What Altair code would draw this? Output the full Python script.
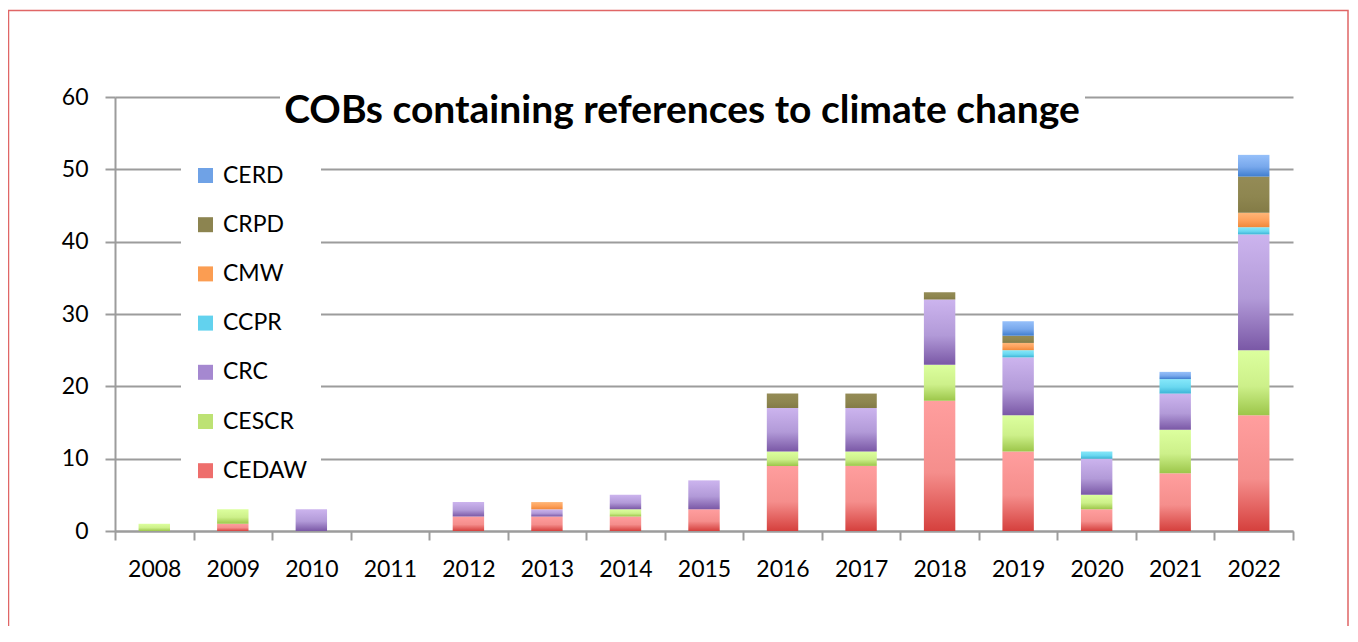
import altair as alt
import pandas as pd

years = ["2008", "2009", "2010", "2011", "2012", "2013", "2014", "2015",
         "2016", "2017", "2018", "2019", "2020", "2021", "2022"]
CEDAW = [0, 1, 0, 0, 2, 2, 2, 3, 9, 9, 18, 11, 3, 8, 16]
CESCR = [1, 2, 0, 0, 0, 0, 1, 0, 2, 2, 5, 5, 2, 6, 9]
CRC   = [0, 0, 3, 0, 2, 1, 2, 4, 6, 6, 9, 8, 5, 5, 16]
CCPR  = [0, 0, 0, 0, 0, 0, 0, 0, 0, 0, 0, 1, 1, 2, 1]
CMW   = [0, 0, 0, 0, 0, 1, 0, 0, 0, 0, 0, 1, 0, 0, 2]
CRPD  = [0, 0, 0, 0, 0, 0, 0, 0, 2, 2, 1, 1, 0, 0, 5]
CERD  = [0, 0, 0, 0, 0, 0, 0, 0, 0, 0, 0, 2, 0, 1, 3]

series_names = ["CEDAW", "CESCR", "CRC", "CCPR", "CMW", "CRPD", "CERD"]
series_values = [CEDAW, CESCR, CRC, CCPR, CMW, CRPD, CERD]
legend_order = ["CERD", "CRPD", "CMW", "CCPR", "CRC", "CESCR", "CEDAW"]
flat_colors = {"CERD": "#6fa2e6", "CRPD": "#8c8450", "CMW": "#fb9d52",
               "CCPR": "#62d2ee", "CRC": "#a588d0", "CESCR": "#bde274",
               "CEDAW": "#ee6e6c"}
grad_colors = {
    "CEDAW": ["#ff9e9e", "#f58e8c", "#d5403d"],
    "CESCR": ["#dcff9e", "#cdf08a", "#9cc64a"],
    "CRC":   ["#ccb4ee", "#b29ad8", "#7a58a6"],
    "CCPR":  ["#86e8fa", "#6ad8f0", "#3cb4d6"],
    "CMW":   ["#ffb678", "#fda05a", "#f0883a"],
    "CRPD":  ["#948b56", "#8e8650", "#837b46"],
    "CERD":  ["#96c0fa", "#78a8ec", "#3f7ecf"],
}
title_text = "COBs containing references to climate change"

rows = []
for rank, (name, vals) in enumerate(zip(series_names, series_values)):
    for y, v in zip(years, vals):
        if v > 0:
            rows.append({"year": y, "series": name, "value": v, "rank": rank})
df = pd.DataFrame(rows)

W, H = 1178, 434
FONT = "Lato"
GRID = "#9c9c9c"

x_enc = alt.X("year:N", sort=years, title=None,
              scale=alt.Scale(domain=years, paddingInner=0, paddingOuter=0),
              axis=alt.Axis(labelAngle=0, labelFont=FONT, labelFontSize=23,
                            labelColor="#000", labelPadding=18,
                            tickBand="extent", tickSize=9, tickColor=GRID,
                            tickWidth=2, domainColor=GRID, domainWidth=2,
                            grid=False))
y_axis = alt.Axis(values=[0, 10, 20, 30, 40, 50, 60], labelFont=FONT,
                  labelFontSize=23, labelColor="#000", labelPadding=17,
                  tickSize=10, tickColor=GRID, tickWidth=2, domainColor=GRID,
                  domainWidth=2, gridColor=GRID, gridWidth=2, grid=True)
y_scale = alt.Scale(domain=[0, 60], nice=False)

base = alt.Chart(df).transform_stack(
    stack="value", as_=["y0", "y1"], groupby=["year"],
    sort=[alt.SortField("rank", order="ascending")])

layers = []
for name in series_names:
    c = grad_colors[name]
    grad = alt.Gradient(gradient="linear", x1=0, x2=0, y1=0, y2=1,
                        stops=[alt.GradientStop(color=c[0], offset=0),
                               alt.GradientStop(color=c[1], offset=0.55),
                               alt.GradientStop(color=c[2], offset=1)])
    layers.append(
        base.transform_filter(alt.datum.series == name)
        .mark_bar(color=grad, width=alt.RelativeBandSize(0.4))
        .encode(x=x_enc,
                y=alt.Y("y0:Q", scale=y_scale, axis=y_axis, title=None),
                y2="y1:Q"))

legend_layer = base.mark_bar(opacity=0, width=alt.RelativeBandSize(0.4)).encode(
    x=x_enc,
    y=alt.Y("y0:Q", scale=y_scale, axis=y_axis, title=None),
    y2="y1:Q",
    color=alt.Color("series:N",
                    scale=alt.Scale(domain=legend_order,
                                    range=[flat_colors[s] for s in legend_order]),
                    legend=alt.Legend(title=None, orient="none", legendX=66,
                                      legendY=54, fillColor="white", padding=13,
                                      symbolType="square", symbolSize=225,
                                      symbolOpacity=1, symbolStrokeWidth=0,
                                      labelFont=FONT, labelFontSize=23,
                                      labelColor="#000", labelOffset=6,
                                      rowPadding=25.2)))

title_df = pd.DataFrame({"t": [title_text]})
title_bg = alt.Chart(title_df).mark_rect(color="white").encode(
    x=alt.value(165), x2=alt.value(970), y=alt.value(-12), y2=alt.value(42))
title_mark = alt.Chart(title_df).mark_text(
    font=FONT, fontSize=39, fontWeight="bold", color="#000",
    align="center", baseline="alphabetic").encode(
    text="t:N", x=alt.value(567), y=alt.value(26))
border = alt.Chart(title_df).mark_rect(
    filled=False, stroke="#e06666", strokeWidth=1.5).encode(
    x=alt.value(-106.5), x2=alt.value(1233), y=alt.value(-86.5),
    y2=alt.value(700))

chart = alt.layer(*layers, legend_layer, title_bg, title_mark, border).properties(
    width=W, height=H,
    autosize=alt.AutoSizeParams(type="none"),
    padding={"left": 107, "top": 89, "right": 57, "bottom": 95},
    background="white",
).configure_view(stroke=None).resolve_scale(color="independent")

chart.save("out.html", embed_options={"renderer": "svg", "actions": False})
